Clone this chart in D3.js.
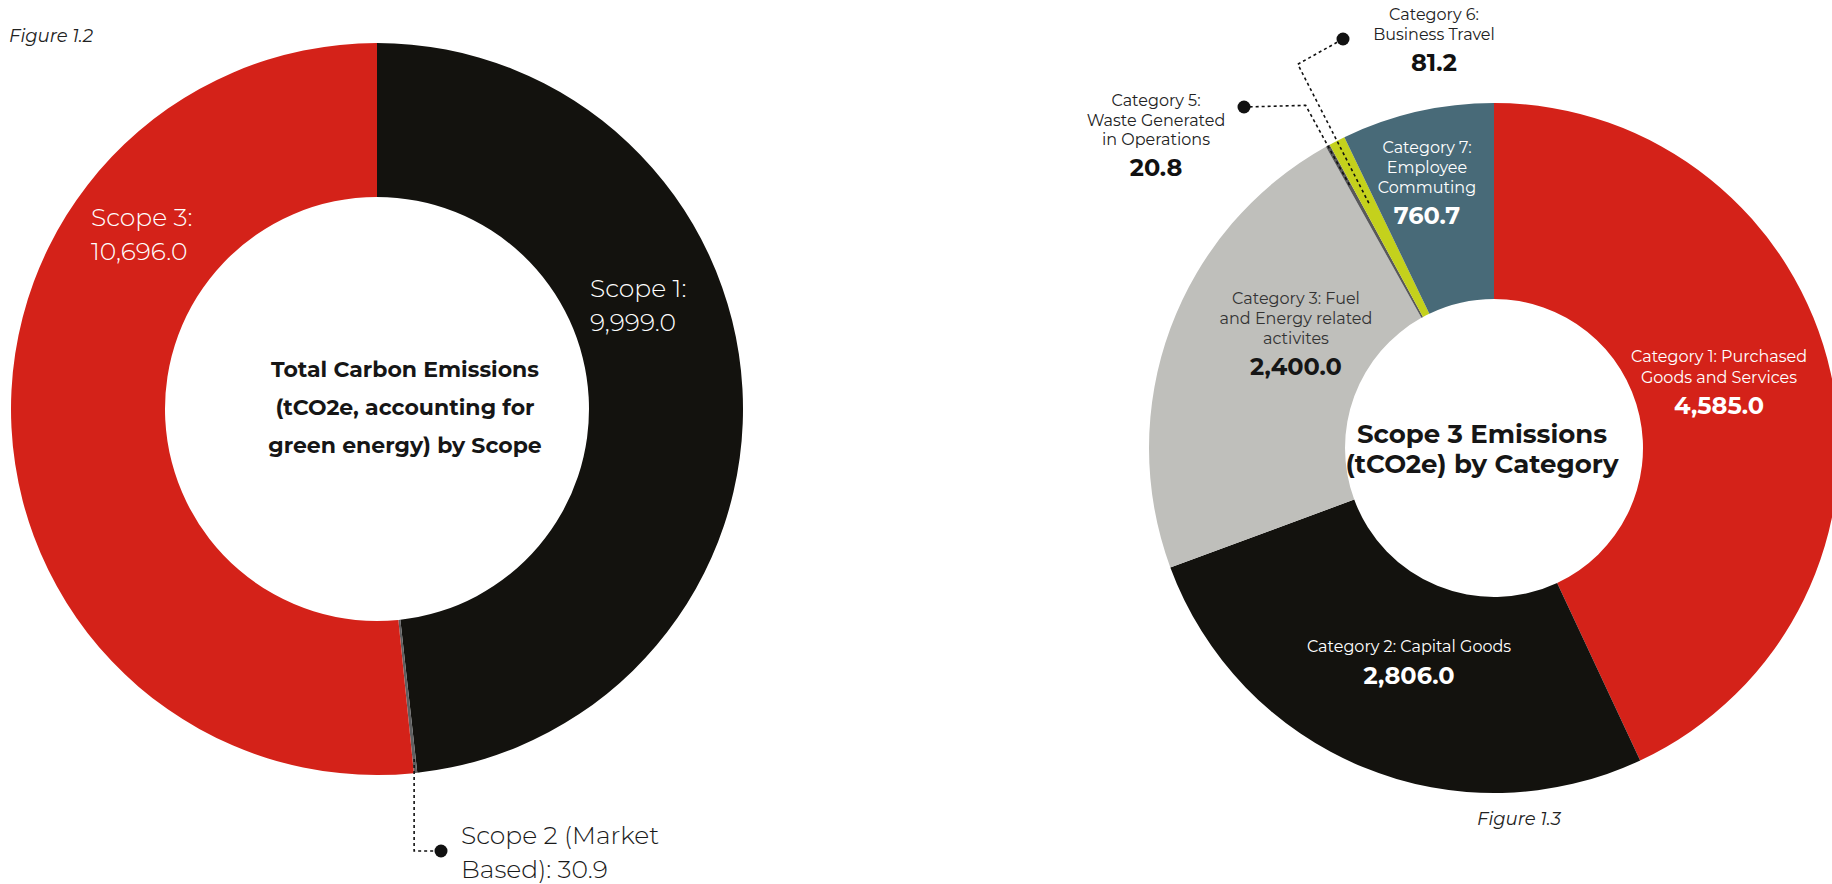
<!DOCTYPE html>
<html>
<head>
<meta charset="utf-8">
<script src="https://cdn.jsdelivr.net/npm/d3@7"></script>
<style>
  body { margin: 0; background: #fff; }
  svg { display: block; font-family: Montserrat, Inter, "Open Sans", sans-serif; }
</style>
</head>
<body>
<svg></svg>
<script>
const w = 1832;
const h = 884;

// figure 1.2 - total emissions by scope
const scopeLabels = [["Scope 1:"], ["Scope 2 (Market", "Based):"], ["Scope 3:"]];
const scopeValues = [9999.0, 30.9, 10696.0];
const scopeColors = ["#13120e", "#5f5f60", "#d42219"];

// figure 1.3 - scope 3 by category
const catLabels = [
  ["Category 1: Purchased", "Goods and Services"],
  ["Category 2: Capital Goods"],
  ["Category 3: Fuel", "and Energy related", "activites"],
  ["Category 5:", "Waste Generated", "in Operations"],
  ["Category 6:", "Business Travel"],
  ["Category 7:", "Employee", "Commuting"]
];
const catValues = [4585.0, 2806.0, 2400.0, 20.8, 81.2, 760.7];
const catColors = ["#d42219", "#13120e", "#bfbfbb", "#58585a", "#c4d11c", "#486a78"];

const fmt = d3.format(",.1f");
const svg = d3.select("svg").attr("width", w).attr("height", h);

const pie = d3.pie().sort(null).value(d => d);

// point on a ray from the donut centre, angle in d3 convention (0 = 12 o'clock)
const polar = (a, r) => [Math.sin(a) * r, -Math.cos(a) * r];
const mid = d => (d.startAngle + d.endAngle) / 2;

// ---------- left donut ----------
const L = {cx: 377, cy: 409, r0: 212, r1: 366};
const leftArcs = pie(scopeValues);
const gL = svg.append("g").attr("transform", `translate(${L.cx},${L.cy})`);
gL.selectAll("path").data(leftArcs).enter().append("path")
  .attr("d", d3.arc().innerRadius(L.r0).outerRadius(L.r1))
  .attr("fill", (d, i) => scopeColors[i]);

// label boxes (page coords of first baseline)
const leftLayout = [
  {x: 590, y: 297, fill: "#fff", inline: false},
  {x: 461, y: 844, fill: "#1a1a1a", inline: true},
  {x: 91, y: 226, fill: "#fff", inline: false}
];
leftLayout.forEach((p, i) => {
  const t = svg.append("text").attr("x", p.x).attr("y", p.y)
    .attr("fill", p.fill).attr("font-size", 25).attr("font-weight", 300);
  const lines = scopeLabels[i].slice();
  if (p.inline) lines[lines.length - 1] += " " + fmt(scopeValues[i]);
  else lines.push(fmt(scopeValues[i]));
  lines.forEach((s, k) => t.append("tspan").attr("x", p.x).attr("dy", k ? 34 : 0).text(s));
});

// scope 2 leader
{
  const d = leftArcs[1];
  const dot = [441, 851];
  const s = polar(mid(d), 352);
  const x0 = L.cx + s[0], y0 = L.cy + s[1];
  svg.append("path")
    .attr("d", `M${x0},${y0}L${x0},${dot[1]}L${dot[0]},${dot[1]}`)
    .attr("fill", "none").attr("stroke", "#111").attr("stroke-width", 1.6).attr("stroke-dasharray", "3,3");
  svg.append("circle").attr("cx", dot[0]).attr("cy", dot[1]).attr("r", 6.5).attr("fill", "#111");
}

const leftTitle = ["Total Carbon Emissions", "(tCO2e, accounting for", "green energy) by Scope"];
svg.append("text").attr("text-anchor", "middle").attr("font-size", 22).attr("font-weight", 700).attr("fill", "#161616")
  .selectAll("tspan").data(leftTitle).enter().append("tspan")
  .attr("x", 405).attr("y", (d, i) => 377 + i * 38).text(d => d);

svg.append("text").attr("x", 9).attr("y", 42).attr("font-size", 18).attr("font-style", "italic")
  .attr("fill", "#222").text("Figure 1.2");

// ---------- right donut ----------
const R = {cx: 1494, cy: 448, r0: 149, r1: 345};
const rightArcs = pie(catValues);
const gR = svg.append("g").attr("transform", `translate(${R.cx},${R.cy})`);
gR.selectAll("path").data(rightArcs).enter().append("path")
  .attr("d", d3.arc().innerRadius(R.r0).outerRadius(R.r1))
  .attr("fill", (d, i) => catColors[i]);

const rightLayout = [
  {x: 1719, y: 362, step: 21, vy: 414, fill: "#fff", vfill: "#fff"},
  {x: 1409, y: 652, step: 21, vy: 684, fill: "#fff", vfill: "#fff"},
  {x: 1296, y: 304, step: 20, vy: 375, fill: "#333", vfill: "#161616"},
  {x: 1156, y: 106, step: 19.5, vy: 176, fill: "#222", vfill: "#111"},
  {x: 1434, y: 20, step: 20, vy: 71, fill: "#222", vfill: "#111"},
  {x: 1427, y: 153, step: 20, vy: 224, fill: "#fff", vfill: "#fff"}
];
rightLayout.forEach((p, i) => {
  svg.append("text").attr("text-anchor", "middle").attr("font-size", 16).attr("fill", p.fill)
    .selectAll("tspan").data(catLabels[i]).enter().append("tspan")
    .attr("x", p.x).attr("y", (d, k) => p.y + k * p.step).text(d => d);
  svg.append("text").attr("text-anchor", "middle").attr("x", p.x).attr("y", p.vy)
    .attr("font-size", 24).attr("font-weight", 700).attr("fill", p.vfill).text(fmt(catValues[i]));
});

// leaders for the two thin slices (radial run, then to the dot)
const leaders = [
  {i: 3, r0: 300, r1: 391, dot: [1244, 107]},
  {i: 4, r0: 275, r1: 431, dot: [1343, 39]}
];
leaders.forEach(l => {
  const a = mid(rightArcs[l.i]);
  const p0 = polar(a, l.r0), p1 = polar(a, l.r1);
  svg.append("path")
    .attr("d", `M${R.cx + p0[0]},${R.cy + p0[1]}L${R.cx + p1[0]},${R.cy + p1[1]}L${l.dot[0]},${l.dot[1]}`)
    .attr("fill", "none").attr("stroke", "#111").attr("stroke-width", 1.6).attr("stroke-dasharray", "3,3");
  svg.append("circle").attr("cx", l.dot[0]).attr("cy", l.dot[1]).attr("r", 6.5).attr("fill", "#111");
});

const rightTitle = ["Scope 3 Emissions", "(tCO2e) by Category"];
svg.append("text").attr("text-anchor", "middle").attr("font-size", 26).attr("font-weight", 700).attr("fill", "#161616")
  .selectAll("tspan").data(rightTitle).enter().append("tspan")
  .attr("x", 1482).attr("y", (d, i) => 443 + i * 30).text(d => d);

svg.append("text").attr("x", 1519).attr("y", 825).attr("text-anchor", "middle").attr("font-size", 18)
  .attr("font-style", "italic").attr("fill", "#222").text("Figure 1.3");
</script>
</body>
</html>
